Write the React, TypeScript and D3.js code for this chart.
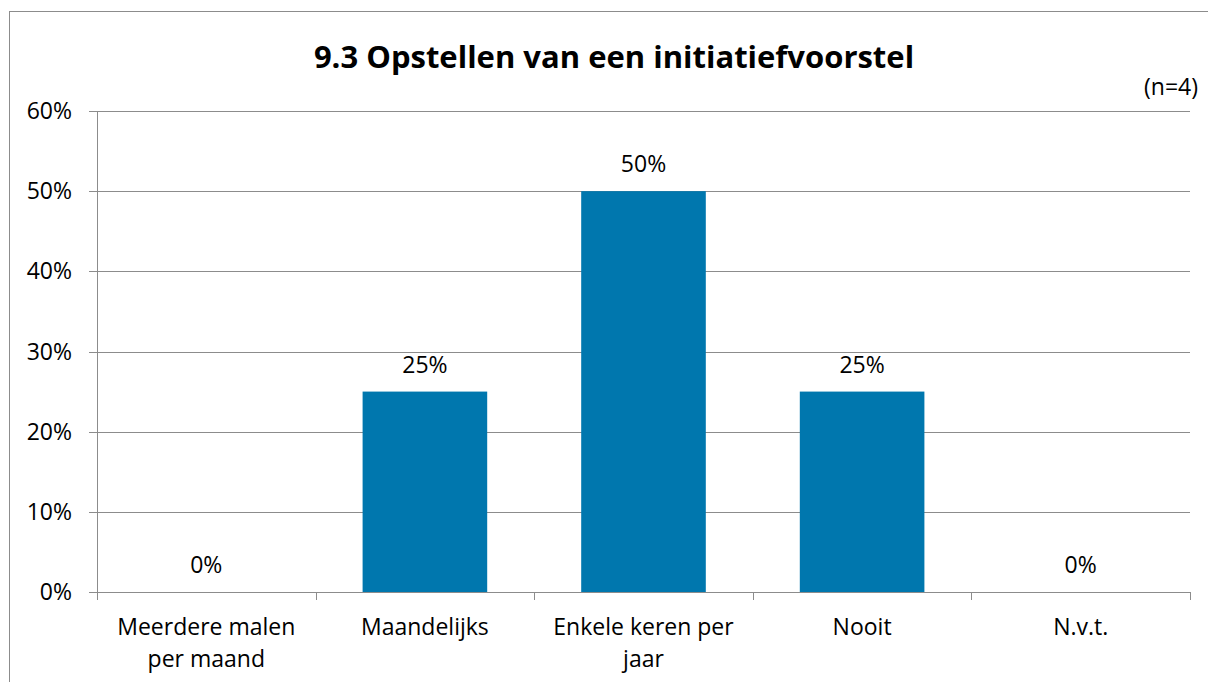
import React from "react";
import * as d3 from "d3";

const categories: string[][] = [
  ["Meerdere malen", "per maand"],
  ["Maandelijks"],
  ["Enkele keren per", "jaar"],
  ["Nooit"],
  ["N.v.t."],
];
const values: number[] = [0, 0.25, 0.5, 0.25, 0];
const yTicks: number[] = [0, 0.1, 0.2, 0.3, 0.4, 0.5, 0.6];
const title = "9.3 Opstellen van een initiatiefvoorstel";
const note = "(n=4)";

const W = 1208;
const H = 682;
const left = 97;
const right = 1190;
const top = 111;
const bottom = 592;
const FONT = "'Open Sans', sans-serif";
const FS = 23;

export default function App() {
  const x = d3
    .scaleBand<number>()
    .domain(d3.range(values.length))
    .range([left, right])
    .paddingInner(0.43)
    .paddingOuter(0.215);
  const xb = d3
    .scaleBand<number>()
    .domain(d3.range(values.length))
    .range([left, right]);
  const y = d3.scaleLinear().domain([0, 0.6]).range([bottom, top]);
  const fmt = d3.format(".0%");
  return (
    <svg
      width={W}
      height={H}
      style={{ position: "absolute", left: 0, top: 0, background: "#fff" }}
      fontFamily={FONT}
    >
      <rect x={9.5} y={11.5} width={W + 20} height={H + 20} fill="#fff" stroke="#8c8c8c" strokeWidth={1} />
      <text x={614} y={68} textAnchor="middle" fontSize={31} fontWeight="bold" fill="#000">
        {title}
      </text>
      <text x={1198} y={95} textAnchor="end" fontSize={FS} fill="#000">
        {note}
      </text>
      {yTicks.map((t) => (
        <g key={t}>
          {t > 0 && (
            <line x1={left} x2={right} y1={Math.round(y(t)) + 0.5} y2={Math.round(y(t)) + 0.5} stroke="#8c8c8c" strokeWidth={1} />
          )}
          <line x1={left - 8} x2={left} y1={Math.round(y(t)) + 0.5} y2={Math.round(y(t)) + 0.5} stroke="#8c8c8c" />
          <text x={72} y={y(t)} dy="0.35em" textAnchor="end" fontSize={FS} fill="#000">
            {fmt(t)}
          </text>
        </g>
      ))}
      {values.map((v, i) => (
        <rect
          key={i}
          x={x(i)}
          y={y(v)}
          width={x.bandwidth()}
          height={bottom - y(v)}
          fill="#0077AE"
        />
      ))}
      <line x1={left + 0.5} x2={left + 0.5} y1={top} y2={bottom + 8} stroke="#8c8c8c" />
      <line x1={left} x2={right} y1={bottom + 0.5} y2={bottom + 0.5} stroke="#8c8c8c" />
      {d3.range(values.length + 1).map((i) => {
        const px = Math.round(i < values.length ? (xb(i) as number) : right) + 0.5;
        return <line key={i} x1={px} x2={px} y1={bottom} y2={bottom + 8} stroke="#8c8c8c" />;
      })}
      {values.map((v, i) => (
        <text
          key={i}
          x={(x(i) as number) + x.bandwidth() / 2}
          y={y(v) - 19}
          textAnchor="middle"
          fontSize={FS}
          fill="#000"
        >
          {fmt(v)}
        </text>
      ))}
      {categories.map((lines, i) =>
        lines.map((l, j) => (
          <text
            key={i + "-" + j}
            x={(xb(i) as number) + xb.bandwidth() / 2}
            y={635 + j * 32}
            textAnchor="middle"
            fontSize={FS}
            fill="#000"
          >
            {l}
          </text>
        ))
      )}
    </svg>
  );
}
